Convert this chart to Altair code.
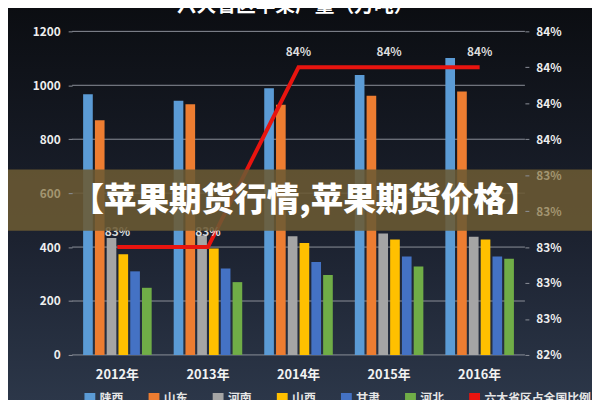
import altair as alt
import pandas as pd

FONT = "Noto Sans CJK SC"

years = ["2012年", "2013年", "2014年", "2015年", "2016年"]
provinces = ["陕西", "山东", "河南", "山西", "甘肃", "河北"]
shaanxi = [967, 943, 989, 1038, 1101]
shandong = [870, 930, 928, 961, 977]
henan = [434, 443, 440, 450, 438]
shanxi = [373, 395, 415, 428, 428]
gansu = [310, 321, 345, 365, 365]
hebei = [249, 270, 296, 328, 357]
ratio_name = "六大省区占全国比例"
ratio = [0.83, 0.83, 0.84, 0.84, 0.84]
ratio_labels = ["83%", "83%", "84%", "84%", "84%"]
left_ticks = [0, 200, 400, 600, 800, 1000, 1200]
right_ticks = [0.824, 0.826, 0.828, 0.830, 0.832, 0.834, 0.836, 0.838, 0.840, 0.842]
bar_colors = ["#5b9bd5", "#ed7d31", "#a5a5a5", "#ffc000", "#4472c4", "#70ad47"]
line_color = "#e8140f"
title_text = "六大省区苹果产量（万吨）"
banner_text = "【苹果期货行情,苹果期货价格】"

series = [shaanxi, shandong, henan, shanxi, gansu, hebei]
rows = []
for p, vals in zip(provinces, series):
    for y, v in zip(years, vals):
        rows.append({"year": y, "prov": p, "value": v})
bars_df = pd.DataFrame(rows)
line_df = pd.DataFrame({"year": years, "ratio": ratio, "label": ratio_labels,
                        "prov": [ratio_name] * len(years)})
grid_df = pd.DataFrame({"value": left_ticks})

W, H = 459, 328
DIM = "#a39570"

x_scale = alt.Scale(domain=years, paddingInner=0.23, paddingOuter=0.115)
x_axis = alt.Axis(title=None, labelAngle=0, domain=False, ticks=False, labelPadding=14,
                  labelFontSize=13, labelFontWeight="bold", labelColor="#f2f2f2",
                  labelFont=FONT, zindex=1)
y_left_scale = alt.Scale(domain=[0, 1200], nice=False, zero=True)
y_right_scale = alt.Scale(domain=[0.824, 0.842], nice=False, zero=False)

left_axis = alt.Axis(title=None, orient="left", values=left_ticks, format="d", grid=False,
                     domain=False, tickSize=4, tickColor="#8c9099", labelPadding=8,
                     labelOverlap=False, labelFontSize=12, labelFontWeight="bold",
                     labelColor=alt.condition("datum.value == 600", alt.value(DIM), alt.value("#eeeeee")),
                     labelFont=FONT, zindex=1)
right_axis = alt.Axis(title=None, orient="right", values=right_ticks, format=".0%",
                      grid=False, domain=False, tickSize=4, tickColor="#8c9099",
                      labelPadding=7, labelOverlap=False, labelFontSize=12, labelFontWeight="bold",
                      labelColor=alt.condition("datum.value > 0.831 && datum.value < 0.835",
                                               alt.value(DIM), alt.value("#eeeeee")),
                      labelFont=FONT, zindex=1)

color_scale = alt.Scale(domain=provinces + [ratio_name], range=bar_colors + [line_color])
legend = alt.Legend(title=None, orient="none", legendX=12, legendY=366, direction="horizontal",
                    symbolType="square", symbolSize=90, labelColor="#e6e6e6", labelFontSize=12,
                    labelFont=FONT, labelFontWeight="bold", columnPadding=22)

bg = alt.Chart(alt.Data(values=[{}])).mark_rect(
    color=alt.Gradient(gradient="linear",
                       stops=[alt.GradientStop(color="#0b0d11", offset=0),
                              alt.GradientStop(color="#1c2230", offset=0.55),
                              alt.GradientStop(color="#2f3b4e", offset=1)],
                       x1=0, x2=0, y1=0, y2=1)
).encode(x=alt.value(-80), x2=alt.value(W + 80), y=alt.value(-30), y2=alt.value(H + 80))

grid = alt.Chart(grid_df).mark_rule(color="#8c9099", strokeWidth=1).encode(
    y=alt.Y("value:Q", scale=y_left_scale, axis=left_axis)
)

bars = alt.Chart(bars_df).mark_bar().encode(
    x=alt.X("year:N", sort=years, scale=x_scale, axis=x_axis),
    xOffset=alt.XOffset("prov:N", sort=provinces,
                        scale=alt.Scale(paddingInner=0.18, paddingOuter=0.05)),
    y=alt.Y("value:Q", scale=y_left_scale, axis=left_axis),
    color=alt.Color("prov:N", scale=color_scale, legend=legend),
)

left = alt.layer(grid, bars)

line = alt.Chart(line_df).mark_line(strokeWidth=4, strokeJoin="miter").encode(
    x=alt.X("year:N", sort=years, scale=x_scale, axis=x_axis, bandPosition=0.5),
    y=alt.Y("ratio:Q", scale=y_right_scale, axis=right_axis),
    color=alt.Color("prov:N", scale=color_scale, legend=legend),
)

labels = alt.Chart(line_df).mark_text(dy=-15, fontSize=12, fontWeight="bold", color="#dddddd",
                                      font=FONT).encode(
    x=alt.X("year:N", sort=years, scale=x_scale, axis=x_axis, bandPosition=0.5),
    y=alt.Y("ratio:Q", scale=y_right_scale, axis=right_axis),
    text="label:N",
)

right = alt.layer(line, labels)

title = alt.Chart(alt.Data(values=[{}])).mark_text(
    text=title_text, fontSize=20, fontWeight="bold", color="#ffffff", font=FONT,
    baseline="bottom", align="center"
).encode(x=alt.value(226), y=alt.value(-16))

banner = alt.Chart(alt.Data(values=[{}])).mark_rect(color="#6b5a33", opacity=0.88).encode(
    x=alt.value(-80), x2=alt.value(W + 80), y=alt.value(140), y2=alt.value(202)
)
banner_txt = alt.Chart(alt.Data(values=[{}])).mark_text(
    text=banner_text, fontSize=33, fontWeight=900, color="#ffffff", font=FONT,
    align="center", baseline="middle"
).encode(x=alt.value(236), y=alt.value(172))

chart = alt.layer(bg, left, right, title, banner, banner_txt).resolve_scale(
    y="independent"
).properties(
    width=W, height=H,
    padding={"left": 65, "top": 21, "right": 68, "bottom": 43},
    autosize=alt.AutoSizeParams(type="none"),
    background="#1c2230",
).configure_view(stroke=None)

chart.save("out.html", embed_options={"renderer": "svg", "actions": False})
